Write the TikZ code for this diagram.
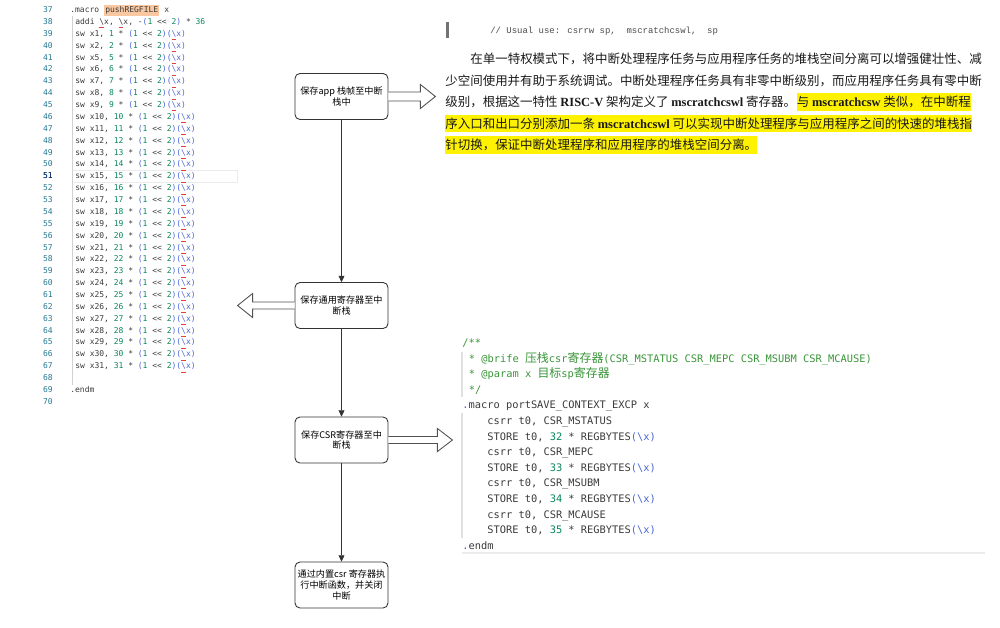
\documentclass[tikz,border=0pt]{standalone}
\usepackage{fontspec}
\setmonofont{DejaVu Sans Mono}
\newfontfamily\cjk{Noto Sans CJK SC}
\newfontfamily\courierfont{Liberation Mono}
\newfontfamily\serifen{Liberation Serif}
\usepackage{tikz}
\usetikzlibrary{arrows.meta,positioning,calc}
\usepackage{xcolor}

\definecolor{codetext}{HTML}{3B3B3B}
\definecolor{linenum}{HTML}{237893}
\definecolor{linecur}{HTML}{0B216F}
\definecolor{numgreen}{HTML}{098658}
\definecolor{parblue}{HTML}{4A66D6}
\definecolor{cmtgreen}{HTML}{3A953A}
\definecolor{squig}{HTML}{E0403A}
\definecolor{hlorange}{HTML}{F9C8A0}
\definecolor{hlyellow}{HTML}{FFF200}
\definecolor{boxline}{HTML}{333333}

\newcommand{\cnum}[1]{\textcolor{numgreen}{#1}}
\newcommand{\pb}[1]{\textcolor{parblue}{#1}}
\newcommand{\sqx}{\colorlet{sqkeep}{.}\textcolor{squig}{\underline{\textcolor{sqkeep}{\textbackslash}}}x}
\newcommand{\zh}[1]{{\cjk\fontsize{6.8}{7}\selectfont #1}}
\newcommand{\en}[1]{{\serifen\bfseries #1}}

\begin{document}
\begin{tikzpicture}[
  x=0.02cm, y=-0.02cm,
  code/.style={font=\ttfamily\fontsize{4.55}{5}\selectfont, text=codetext, anchor=base west, inner sep=0pt},
  lnum/.style={code, text=linenum, anchor=base east},
  stepbox/.style={draw=boxline, line width=0.5pt, rounded corners=2.8pt, fill=white,
    minimum width=1.86cm, minimum height=0.92cm, inner sep=0.5pt, align=center,
    font=\cjk\fontsize{5.2}{6.2}\selectfont},
  flow/.style={draw=boxline, line width=0.5pt, -{Triangle[length=3.6pt,width=3.4pt]}},
  fatarrow/.style={draw=boxline!85, line width=0.5pt, fill=white},
  para/.style={anchor=base west, inner xsep=0pt, inner ysep=1.6pt, text=black!90,
    font=\cjk\fontsize{7.1}{8}\selectfont},
  bcode/.style={font=\ttfamily\fontsize{5.9}{7}\selectfont, text=codetext, anchor=base west, inner sep=0pt},
  cmt/.style={bcode, text=cmtgreen}
]
\useasboundingbox (0,0) rectangle (1000,627);

% left listing
\draw[black!8, line width=0.5pt] (72,170.5) rectangle (237,182);
\draw[black!18, line width=0.6pt] (72.5,16) -- (72.5,385);
\foreach \n in {37,...,70}
  \node[lnum] (ln\n) at (53,{12.6+(\n-37)*11.87}) {\n};
\node[lnum, text=linecur] at (ln51.base east) {51};
\node[code] (macro-head) at (70,12.6) {.macro {\setlength{\fboxsep}{0.7pt}\colorbox{hlorange}{pushREGFILE}} x};
\node[code] (addi) at (75,24.5) {addi \sqx, \sqx, -\pb{(}\cnum{1} << \cnum{2}\pb{)} * \cnum{36}};
\foreach \r [count=\i from 39] in {1,2,5,6,...,31}
  \node[code] (sw\r) at (75,{12.6+(\i-37)*11.87}) {sw x\r, \cnum{\r} * \pb{(}\cnum{1} << \cnum{2}\pb{)(\sqx)}};
\node[code] (macro-end) at (70,{12.6+32*11.87}) {.endm};

% flow
\node[stepbox] (save-app) at (341.5,96.5) {保存app 栈帧至中断\\栈中};
\node[stepbox] (save-gpr) at (341.5,305.5) {保存通用寄存器至中\\断栈};
\node[stepbox] (save-csr) at (341.5,440) {保存CSR寄存器至中\\断栈};
\node[stepbox] (call-isr) at (341.5,585) {通过内置csr 寄存器执\\行中断函数，并关闭\\中断};
\draw[flow] (save-app) -- (save-gpr);
\draw[flow] (save-gpr) -- (save-csr);
\draw[flow] (save-csr) -- (call-isr);

\draw[fatarrow] (save-app.east) ++(0,4.5) -- ++(32,0) -- ++(0,7.5) -- ++(15,-12) -- ++(-15,-12) -- ++(0,7.5) -- ++(-32,0);
\draw[fatarrow] (save-gpr.west) ++(0,3.5) -- ++(-42,0) -- ++(0,8.5) -- ++(-15,-12) -- ++(15,-12) -- ++(0,8.5) -- ++(42,0);
\draw[fatarrow] (save-csr.east) ++(0,3.5) -- ++(49,0) -- ++(0,8) -- ++(15,-11.5) -- ++(-15,-11.5) -- ++(0,8) -- ++(-49,0);

% right text
\draw[black!55, line width=1.2pt] (447.5,22) -- (447.5,38);
\node[anchor=base west, inner sep=0pt, text=black!70, font=\courierfont\fontsize{5.1}{6}\selectfont] (usage) at (490,33.8) {// Usual use: csrrw sp,\ \ mscratchcswl,\ \ sp};
\node[para] (p1) at (470,63.7) {在单一特权模式下，将中断处理程序任务与应用程序任务的堆栈空间分离可以增强健壮性、减};
\node[para] (p2) at (445,85.2) {少空间使用并有助于系统调试。中断处理程序任务具有非零中断级别，而应用程序任务具有零中断};
\node[para] (p3a) at (445,106.7) {级别，根据这一特性 \en{RISC-V} 架构定义了 \en{mscratchcswl} 寄存器。};
\node[para, fill=hlyellow] (p3b) at (p3a.base east) {与 \en{mscratchcsw} 类似，在中断程};
\node[para, fill=hlyellow] (p4) at (445,128.2) {序入口和出口分别添加一条 \en{mscratchcswl} 可以实现中断处理程序与应用程序之间的快速的堆栈指};
\node[para, fill=hlyellow] (p5) at (445,149.7) {针切换，保证中断处理程序和应用程序的堆栈空间分离。};

% bottom right listing
\draw[black!12, line width=0.6pt] (462,352) -- (462,397);
\draw[black!12, line width=0.6pt] (462,413) -- (462,538);
\draw[black!8, line width=0.6pt] (462,553) -- (985,553);
\node[cmt] (doc-open) at (462,346.4) {/**};
\node[cmt] (doc-brief) at (468.5,362) {* @brife \zh{压栈}csr\zh{寄存器}(CSR\_MSTATUS CSR\_MEPC CSR\_MSUBM CSR\_MCAUSE)};
\node[cmt] (doc-param) at (468.5,377.6) {* @param x \zh{目标}sp\zh{寄存器}};
\node[cmt] (doc-close) at (468.5,393.2) {*/};
\node[bcode] (port-head) at (462,408.8) {\pb{.}macro portSAVE\_CONTEXT\_EXCP x};
\foreach \reg/\off [count=\k from 0] in {MSTATUS/32, MEPC/33, MSUBM/34, MCAUSE/35} {
  \node[bcode] (csrr\off) at (487,{424.4+\k*31.2}) {csrr t0, CSR\_\reg};
  \node[bcode] (store\off) at (487,{440+\k*31.2}) {STORE t0, \cnum{\off} * REGBYTES\pb{(\textbackslash x)}};
}
\node[bcode] (port-end) at (462,549.2) {\pb{.}endm};
\end{tikzpicture}
\end{document}
